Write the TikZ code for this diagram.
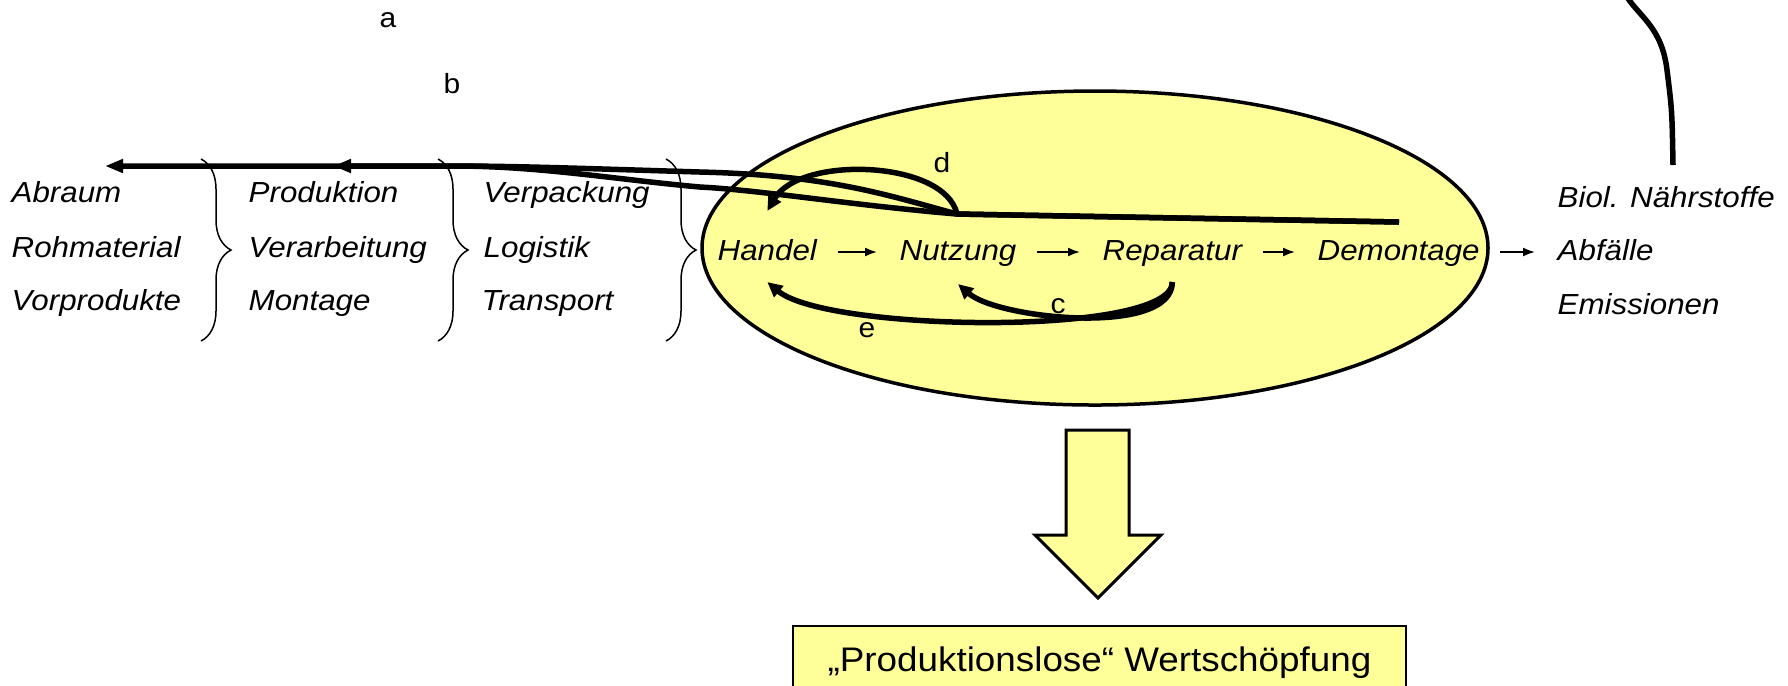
\documentclass[tikz,border=0pt]{standalone}
\usepackage{fontspec}
\setmainfont{Liberation Sans}[FakeStretch=1.08]
\usepackage{tikz}
\usetikzlibrary{calc,decorations.pathreplacing,arrows.meta}
\definecolor{paleyellow}{HTML}{FFFF99}
\tikzset{
	item/.style={font=\fontsize{8.25}{9}\selectfont\itshape, inner sep=0pt, text height=0.72em, text depth=0.21em, anchor=west},
	tag/.style={font=\fontsize{7.9}{9}\selectfont, inner sep=0pt},
	flow/.style={line width=0.55mm, -{Triangle[length=1.8mm,width=1.3mm]}},
	loop/.style={line width=0.55mm, -{Triangle[length=1.5mm,width=1.4mm]}},
	link/.style={line width=0.17mm, -{Latex[length=1.2mm,width=0.9mm]}, shorten <=2mm, shorten >=2.2mm},
	bracket/.style={line width=0.15mm, decorate, decoration={brace, amplitude=3mm}}
}
\begin{document}
\begin{tikzpicture}[x=0.1mm, y=-0.1mm]
	\useasboundingbox (0,0) rectangle (1788,685);
	\clip (0,0) rectangle (1788,685);
	% the cycle of use
	\draw[line width=0.35mm, fill=paleyellow] (1095,248) ellipse [x radius=393, y radius=157];
	% the chain before
	\node[item] (abraum) at (11,194) {Abraum};
	\node[item] (rohmaterial) at (11,249) {Rohmaterial};
	\node[item] (vorprodukte) at (11,302) {Vorprodukte};
	\draw[bracket] (201,159) -- (201,341);
	\node[item] (produktion) at (248,194) {Produktion};
	\node[item] (verarbeitung) at (248,249) {Verarbeitung};
	\node[item] (montage) at (248,302) {Montage};
	\draw[bracket] (438,159) -- (438,341);
	\node[item] (verpackung) at (483,194) {Verpackung};
	\node[item] (logistik) at (483,249) {Logistik};
	\node[item] (transport) at (481,302) {Transport};
	\draw[bracket] (666,159) -- (666,341);
	% the row in the ellipse
	\node[item] (handel) at (717,252) {Handel};
	\node[item] (nutzung) at (899,252) {Nutzung};
	\node[item] (reparatur) at (1102,252) {Reparatur};
	\node[item] (demontage) at (1317,252) {Demontage};
	\node[item] (biol) at (1557,199) {Biol. Nährstoffe};
	\node[item] (abfaelle) at (1557,252) {Abfälle};
	\node[item] (emissionen) at (1557,306) {Emissionen};
	\draw[link] (handel) -- (nutzung);
	\draw[link] (nutzung) -- (reparatur);
	\draw[link] (reparatur) -- (demontage);
	\draw[link] (demontage) -- (abfaelle);
	% back flows
	\coordinate (src) at (1399,222);
	\coordinate (knot) at (957,214);
	\coordinate (abraumtip) at (105,166);
	\coordinate (prodtip) at (333,166);
	\draw[flow] (src) -- (knot) .. controls (850,205) and (760,190) .. (700,187) .. controls (620,180) and (540,166) .. (455,166) -- (abraumtip);
	\draw[flow] (src) -- (knot) .. controls (890,196) and (830,175) .. (700,172) .. controls (600,169) and (520,166) .. (455,166) -- (prodtip);
	\draw[loop] (knot) .. controls (945,160) and (800,155) .. ([yshift=2.4mm]handel.north);
	\draw[loop] ([yshift=-1.3mm]reparatur.south) .. controls +(0,55) and +(40,35) .. ([yshift=-1.5mm]nutzung.south);
	\draw[loop] ([yshift=-1.3mm]reparatur.south) .. controls +(0,55) and +(60,50) .. ([yshift=-1.3mm]handel.south);
	\draw[line width=0.55mm] (1627,-3) .. controls (1640,17) and (1662,28) .. (1667,70) .. controls (1672,110) .. (1673,165);
	% labels
	\node[tag] (a) at (388,20) {a};
	\node[tag] (b) at (452,84) {b};
	\node[tag] (d) at (942,163) {d};
	\node[tag] (c) at (1058,306) {c};
	\node[tag] (e) at (867,330) {e};
	% result
	\draw[line width=0.3mm, fill=paleyellow] (1066,430) -- (1129,430) -- (1129,535) -- (1161,535) -- (1098,598) -- (1035,535) -- (1066,535) -- cycle;
	\node[draw, line width=0.2mm, fill=paleyellow, minimum width=61.3mm, minimum height=7.4mm, anchor=north, inner sep=0pt, font=\fontsize{9.7}{11}\selectfont] (wert) at (1099.5,625) {„Produktionslose“ Wertschöpfung};
\end{tikzpicture}
\end{document}
